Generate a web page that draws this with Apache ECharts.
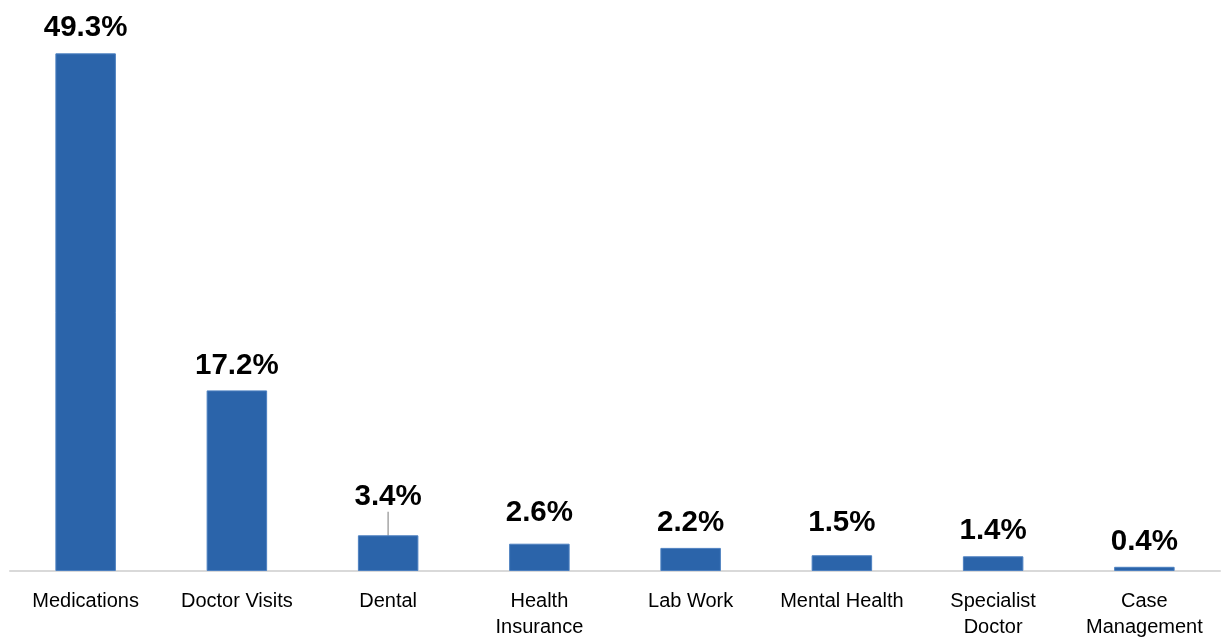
<!DOCTYPE html>
<html>
<head>
<meta charset="utf-8">
<script src="https://cdn.jsdelivr.net/npm/echarts@6/dist/echarts.min.js"></script>
<style>
  html, body { margin: 0; padding: 0; background: #ffffff; }
  #chart { width: 1227px; height: 640px; }
</style>
</head>
<body>
<div id="chart"></div>
<script>
// Share of respondents by type of health-care cost
const categories = [
  'Medications', 'Doctor Visits', 'Dental', 'Health\nInsurance',
  'Lab Work', 'Mental Health', 'Specialist\nDoctor', 'Case\nManagement'
];
const shares = [49.3, 17.2, 3.4, 2.6, 2.2, 1.5, 1.4, 0.4];

// Extra lift of some value labels above their bars (px)
const labelLift = [0, 0, 13.5, 5.5, 0, 7.5, 0, 0];

const chart = echarts.init(document.getElementById('chart'), null, { renderer: 'canvas' });

chart.setOption({
  animation: false,
  backgroundColor: '#ffffff',
  grid: { left: 10, right: 7, top: 46, bottom: 68, containLabel: false },
  xAxis: {
    type: 'category',
    data: categories,
    axisLine: { show: true, lineStyle: { color: '#d9d9d9', width: 2 } },
    axisTick: { show: false },
    axisLabel: {
      interval: 0,
      margin: 17,
      fontFamily: 'Liberation Sans, Arial, sans-serif',
      fontSize: 20,
      lineHeight: 26,
      color: '#000000'
    }
  },
  yAxis: {
    type: 'value',
    min: 0,
    max: 50,
    show: false,
    splitLine: { show: false }
  },
  series: [{
    type: 'bar',
    barWidth: '40%',
    data: shares.map((v, i) => i === 2
      ? { value: v, labelLine: { show: true, lineStyle: { color: '#a6a6a6', width: 1.5 } } }
      : v),
    itemStyle: { color: '#2b64aa', borderColor: '#4d80c0', borderWidth: 1 },
    label: {
      show: true,
      position: 'top',
      distance: 10,
      formatter: p => p.value.toFixed(1) + '%',
      fontFamily: 'Liberation Sans, Arial, sans-serif',
      fontSize: 29.5,
      fontWeight: 'bold',
      color: '#000000'
    },
    labelLayout: p => ({ dy: -labelLift[p.dataIndex] })
  }]
});
</script>
</body>
</html>
